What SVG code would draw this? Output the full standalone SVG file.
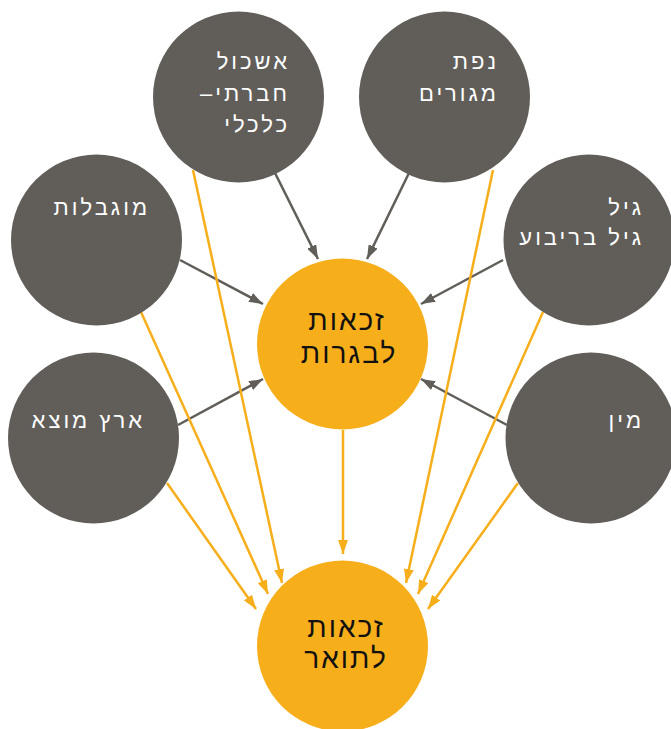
<svg xmlns="http://www.w3.org/2000/svg" width="671" height="729" viewBox="0 0 671 729">
<defs>
<style>
.g{fill:#615e5a}
.o{fill:#f7ae1b}
.t{font-family:"Liberation Sans","DejaVu Sans",sans-serif;font-size:22px;fill:#ffffff;letter-spacing:3px}
.c{font-family:"Liberation Sans","DejaVu Sans",sans-serif;font-size:28px;fill:#111111;letter-spacing:2px;text-anchor:middle}
.lg{stroke:#615e5a;stroke-width:2.5;fill:none;marker-end:url(#ag)}
.lo{stroke:#f7ae1b;stroke-width:2.5;fill:none;marker-end:url(#ao)}
</style>
<marker id="ag" viewBox="0 0 14 10" refX="14" refY="5" markerWidth="14" markerHeight="10" markerUnits="userSpaceOnUse" orient="auto">
<path d="M0,0 L14,5 L0,10 Z" fill="#615e5a"/>
</marker>
<marker id="ao" viewBox="0 0 14 10" refX="14" refY="5" markerWidth="14" markerHeight="10" markerUnits="userSpaceOnUse" orient="auto">
<path d="M0,0 L14,5 L0,10 Z" fill="#f7ae1b"/>
</marker>
</defs>
<rect width="671" height="729" fill="#ffffff"/>
<g id="connectors">
<line class="lg" x1="275" y1="173" x2="318" y2="259"/>
<line class="lg" x1="409" y1="173" x2="367" y2="259"/>
<line class="lg" x1="180" y1="260" x2="263" y2="304"/>
<line class="lg" x1="503" y1="260" x2="421" y2="304"/>
<line class="lg" x1="178" y1="425" x2="263" y2="379"/>
<line class="lg" x1="507" y1="425" x2="421" y2="379"/>
<line class="lo" x1="343" y1="430" x2="343" y2="554"/>
<line class="lo" x1="193" y1="170" x2="282" y2="583"/>
<line class="lo" x1="493" y1="170" x2="406" y2="583"/>
<line class="lo" x1="141" y1="312" x2="268" y2="594"/>
<line class="lo" x1="543" y1="312" x2="418" y2="594"/>
<line class="lo" x1="167" y1="483" x2="256" y2="609"/>
<line class="lo" x1="518" y1="483" x2="428" y2="609"/>
</g>
<g id="n-eshkol">
<circle class="g" cx="238.5" cy="97" r="85.5"/>
<text class="t" direction="rtl" x="290" y="69">אשכול</text>
<text class="t" direction="rtl" x="290" y="101">חברתי–</text>
<text class="t" direction="rtl" x="290" y="132">כלכלי</text>
</g>
<g id="n-nafa">
<circle class="g" cx="444.5" cy="97" r="85.5"/>
<text class="t" direction="rtl" x="499" y="69">נפת</text>
<text class="t" direction="rtl" x="499" y="101">מגורים</text>
</g>
<g id="n-disability">
<circle class="g" cx="96.5" cy="240" r="85.5"/>
<text class="t" direction="rtl" x="150" y="215">מוגבלות</text>
</g>
<g id="n-age">
<circle class="g" cx="589" cy="240" r="85.5"/>
<text class="t" direction="rtl" x="644" y="215">גיל</text>
<text class="t" direction="rtl" x="644" y="245">גיל בריבוע</text>
</g>
<g id="n-origin">
<circle class="g" cx="93.5" cy="438" r="85.5"/>
<text class="t" direction="rtl" x="145" y="428">ארץ מוצא</text>
</g>
<g id="n-gender">
<circle class="g" cx="591" cy="438" r="85.5"/>
<text class="t" direction="rtl" x="644" y="428">מין</text>
</g>
<g id="n-bagrut">
<circle class="o" cx="342.5" cy="344" r="85.5"/>
<text class="c" direction="rtl" x="347" y="330">זכאות</text>
<text class="c" direction="rtl" x="349" y="363">לבגרות</text>
</g>
<g id="n-toar">
<circle class="o" cx="342.5" cy="646" r="85.5"/>
<text class="c" direction="rtl" x="346" y="637">זכאות</text>
<text class="c" direction="rtl" x="346" y="668">לתואר</text>
</g>
</svg>
